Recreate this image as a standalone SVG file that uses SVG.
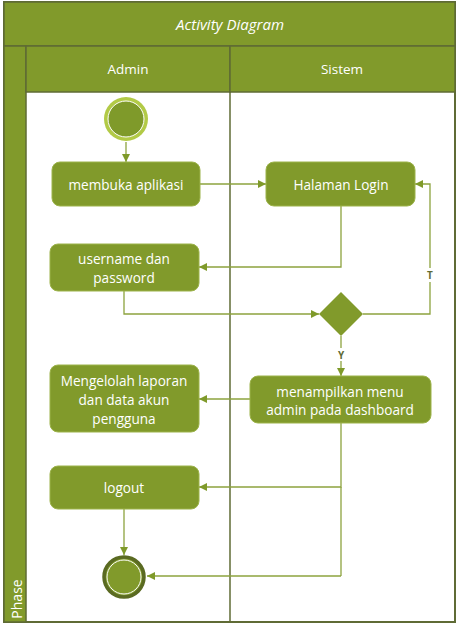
<svg xmlns="http://www.w3.org/2000/svg" width="457" height="628" viewBox="0 0 457 628">
<defs>
<style>
.frame{fill:#ffffff;stroke:#5f6b35;stroke-width:2}
.band{fill:#819a2b;stroke:#5f6b35;stroke-width:1.5}
.act{fill:#819a2b;stroke:#9cb34a;stroke-width:1}
.t{font-family:"Open Sans",sans-serif;font-size:13.6px;fill:#ffffff;text-anchor:middle;dominant-baseline:central}
.hd{font-family:"Open Sans",sans-serif;font-size:13.5px;fill:#ffffff;text-anchor:middle;dominant-baseline:central}
.c{fill:none;stroke:#8da33e;stroke-width:1.3;marker-end:url(#ah)}
.cn{fill:none;stroke:#8da33e;stroke-width:1.3}
.lbl{font-family:"Open Sans",sans-serif;font-size:10px;font-weight:bold;fill:#5f6b35;text-anchor:middle;dominant-baseline:central}
</style>
<marker id="ah" viewBox="0 0 10 10" refX="10" refY="5" markerWidth="8" markerHeight="8" markerUnits="userSpaceOnUse" orient="auto">
<path d="M0,0 L10,5 L0,10 z" fill="#7f9a2a"/>
</marker>
</defs>
<g id="pool">
<rect class="frame" x="4" y="2" width="451" height="620"/>
<rect class="band" x="4" y="2" width="451" height="44"/>
<text class="hd" x="230" y="24" style="font-style:italic;font-size:15px">Activity Diagram</text>
<rect class="band" x="4" y="46" width="22" height="576"/>
<text class="hd" transform="translate(16,599) rotate(-90)" style="font-size:14px">Phase</text>
<rect class="band" x="26" y="46" width="204" height="46"/>
<rect class="band" x="230" y="46" width="225" height="46"/>
<text class="hd" x="128" y="69">Admin</text>
<text class="hd" x="342" y="69">Sistem</text>
<line x1="230" y1="92" x2="230" y2="622" stroke="#5f6b35" stroke-width="1.5"/>
</g>
<g id="connectors">
<path class="c" d="M126,142 L126,162"/>
<path class="c" d="M200,184 L266,184"/>
<path class="c" d="M341,206 L341,267 L199,267"/>
<path class="c" d="M124,291 L124,314 L319,314"/>
<path class="c" d="M363,314 L430,314 L430,184 L415,184"/>
<path class="c" d="M341,336 L341,376"/>
<path class="c" d="M250,399 L199,399"/>
<path class="c" d="M341,423 L341,487 L199,487"/>
<path class="cn" d="M341,487 L341,576"/>
<path class="c" d="M341,576 L147,576"/>
<path class="c" d="M124,509 L124,555"/>
<rect x="424" y="268" width="12" height="14" fill="#ffffff"/>
<text class="lbl" x="430" y="275">T</text>
<rect x="335" y="348" width="12" height="13" fill="#ffffff"/>
<text class="lbl" x="341" y="355">Y</text>
</g>
<g id="start">
<circle cx="126" cy="119" r="22" fill="#b2ca46"/>
<circle cx="126" cy="119" r="18" fill="#7f9a2a" stroke="#ffffff" stroke-width="1"/>
</g>
<g id="membuka">
<rect class="act" x="52" y="162" width="148" height="44" rx="8"/>
<text class="t" x="126" y="184">membuka aplikasi</text>
</g>
<g id="login">
<rect class="act" x="266" y="162" width="149" height="44" rx="8"/>
<text class="t" x="341" y="184">Halaman Login</text>
</g>
<g id="username">
<rect class="act" x="50" y="244" width="149" height="47" rx="8"/>
<text class="t" x="124" y="258">username dan</text>
<text class="t" x="124" y="277">password</text>
</g>
<g id="decision">
<path d="M341,292 L363,314 L341,336 L319,314 z" fill="#819a2b"/>
</g>
<g id="menampilkan">
<rect class="act" x="250" y="376" width="181" height="47" rx="8"/>
<text class="t" x="340" y="391">menampilkan menu</text>
<text class="t" x="340" y="409">admin pada dashboard</text>
</g>
<g id="mengelolah">
<rect class="act" x="50" y="365" width="149" height="67" rx="8"/>
<text class="t" x="124" y="380">Mengelolah laporan</text>
<text class="t" x="124" y="399">dan data akun</text>
<text class="t" x="124" y="418">pengguna</text>
</g>
<g id="logout">
<rect class="act" x="50" y="466" width="149" height="43" rx="8"/>
<text class="t" x="124" y="487">logout</text>
</g>
<g id="end">
<circle cx="124" cy="577" r="20" fill="#819a2b" stroke="#5a6a22" stroke-width="3.5"/>
<circle cx="124" cy="577" r="17" fill="none" stroke="#ffffff" stroke-width="1"/>
</g>
</svg>
